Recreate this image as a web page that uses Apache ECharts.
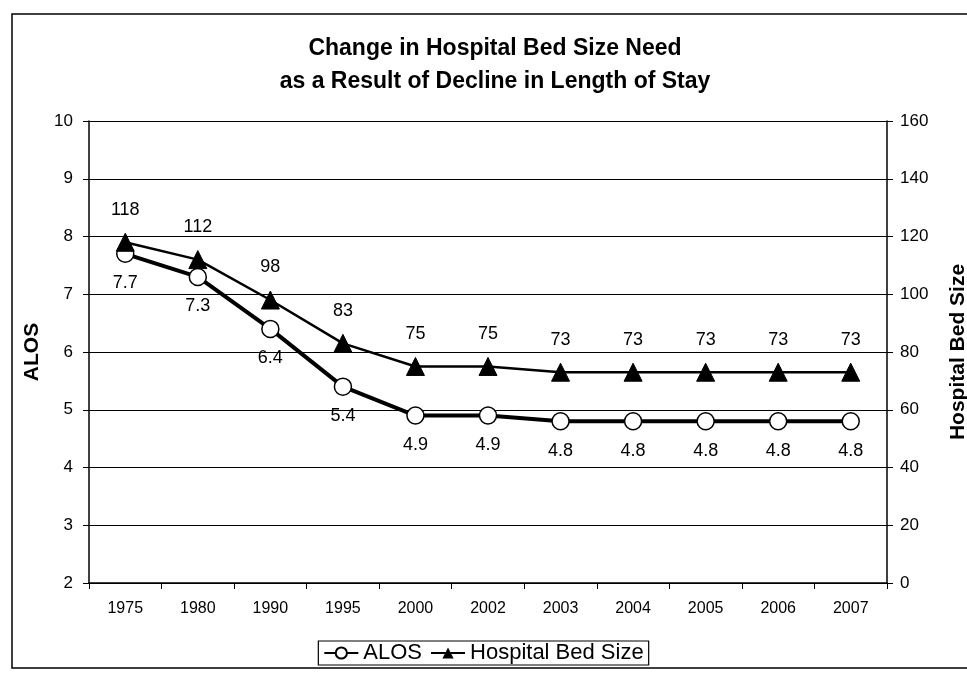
<!DOCTYPE html>
<html>
<head>
<meta charset="utf-8">
<script src="https://cdn.jsdelivr.net/npm/echarts@6/dist/echarts.min.js"></script>
<style>
  html, body { margin: 0; padding: 0; background: #fff; }
  #chart { width: 967px; height: 681px; }
</style>
</head>
<body>
<div id="chart"></div>
<script>
// Years on the category axis
const years = ['1975', '1980', '1990', '1995', '2000', '2002', '2003', '2004', '2005', '2006', '2007'];
// Average length of stay (days)
const alos = [7.7, 7.3, 6.4, 5.4, 4.9, 4.9, 4.8, 4.8, 4.8, 4.8, 4.8];
// Hospital bed size need
const bedSize = [118, 112, 98, 83, 75, 75, 73, 73, 73, 73, 73];

const FONT = '"Liberation Sans", Arial, sans-serif';

const chart = echarts.init(document.getElementById('chart'), null, { renderer: 'canvas' });

chart.setOption({
  backgroundColor: '#ffffff',
  animation: false,
  textStyle: { fontFamily: FONT, color: '#000' },
  title: {
    text: 'Change in Hospital Bed Size Need\nas a Result of Decline in Length of Stay',
    left: 490,
    top: 27,
    textAlign: 'center',
    textStyle: { fontFamily: FONT, fontSize: 23, fontWeight: 'bold', color: '#000', lineHeight: 33 }
  },
  graphic: [{
    // outer frame of the chart area
    type: 'rect',
    shape: { x: 12, y: 14, width: 960, height: 654 },
    style: { fill: 'none', stroke: '#000', lineWidth: 1.5 },
    silent: true
  }],
  legend: {
    top: 641,
    left: 'center',
    itemWidth: 34,
    itemHeight: 14,
    itemGap: 8,
    padding: [1, 5],
    borderColor: '#000',
    borderWidth: 1.2,
    textStyle: { fontFamily: FONT, fontSize: 22, color: '#000' },
    data: ['ALOS', 'Hospital Bed Size']
  },
  grid: { left: 89, right: 80, top: 121, bottom: 98, containLabel: false, outerBoundsMode: 'none' },
  xAxis: {
    type: 'category',
    data: years,
    boundaryGap: true,
    axisLine: { lineStyle: { color: '#000', width: 1.5 } },
    axisTick: { show: true, length: 6, lineStyle: { color: '#000' } },
    axisLabel: { fontFamily: FONT, fontSize: 16, color: '#000', margin: 18 }
  },
  yAxis: [{
    type: 'value',
    name: 'ALOS',
    nameLocation: 'middle',
    nameGap: 46,
    nameRotate: 90,
    nameTextStyle: { fontFamily: FONT, fontSize: 21, fontWeight: 'bold', color: '#000' },
    min: 2, max: 10, interval: 1,
    axisLine: { show: true, lineStyle: { color: '#000', width: 1.5 } },
    axisTick: { show: true, length: 6, lineStyle: { color: '#000' } },
    axisLabel: { fontFamily: FONT, fontSize: 17, color: '#000', margin: 16 },
    splitLine: { show: true, lineStyle: { color: '#000', width: 1 } }
  }, {
    type: 'value',
    name: 'Hospital Bed Size',
    nameLocation: 'middle',
    nameGap: 61,
    nameRotate: 90,
    nameTextStyle: { fontFamily: FONT, fontSize: 21, fontWeight: 'bold', color: '#000' },
    min: 0, max: 160, interval: 20,
    position: 'right',
    axisLine: { show: true, lineStyle: { color: '#000', width: 1.5 } },
    axisTick: { show: true, length: 6, lineStyle: { color: '#000' } },
    axisLabel: { fontFamily: FONT, fontSize: 17, color: '#000', margin: 13 },
    splitLine: { show: false }
  }],
  series: [{
    name: 'ALOS',
    type: 'line',
    yAxisIndex: 0,
    data: alos,
    symbol: 'circle',
    symbolSize: 17,
    itemStyle: { color: '#fff', borderColor: '#000', borderWidth: 1.5 },
    lineStyle: { color: '#000', width: 4 },
    label: {
      show: true, position: 'bottom', distance: 11,
      fontFamily: FONT, fontSize: 18, color: '#000',
      formatter: p => p.value.toFixed(1)
    },
    z: 3
  }, {
    name: 'Hospital Bed Size',
    type: 'line',
    yAxisIndex: 1,
    data: bedSize,
    symbol: 'triangle',
    symbolSize: 18,
    itemStyle: { color: '#000', borderColor: '#000' },
    lineStyle: { color: '#000', width: 2.5 },
    label: {
      show: true, position: 'top', distance: 14,
      fontFamily: FONT, fontSize: 18, color: '#000'
    },
    z: 4
  }]
});
</script>
</body>
</html>
